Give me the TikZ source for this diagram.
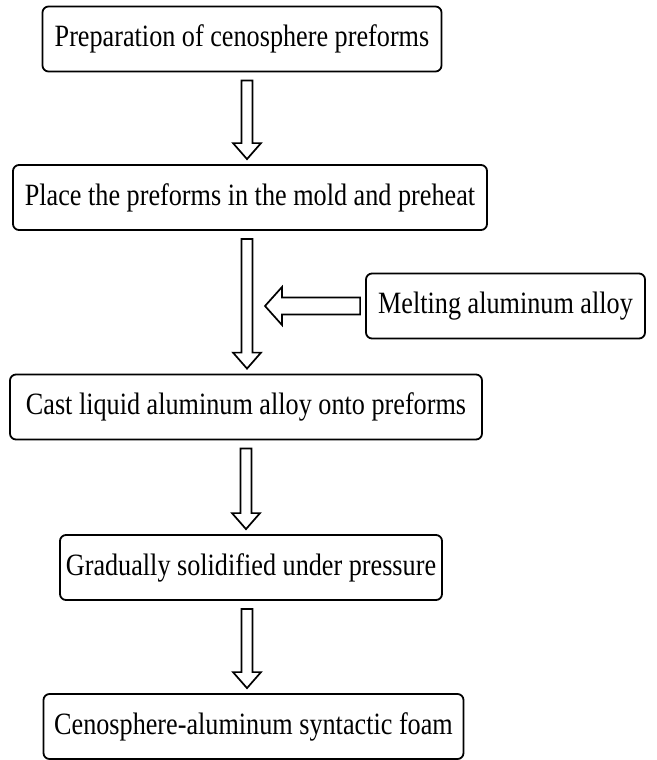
\documentclass[tikz,border=0pt]{standalone}
\usepackage{fontspec}
\setmainfont{Liberation Serif}[FakeStretch=0.845]
\usetikzlibrary{calc,positioning}
\tikzset{
    stepbox/.style={draw, rounded corners=6pt, line width=1.8pt, minimum height=65pt, inner xsep=3pt, font=\fontsize{31}{34}\selectfont},
    downarrow/.style={line width=1.7pt, to path={
        let \p1=(\tikztostart), \p2=(\tikztotarget) in
        (\x1-5.5pt,\y1-8pt) -- (\x1-5.5pt,\y2+21pt) -- (\x1-14pt,\y2+21pt) -- (\x1,\y2+5pt)
        -- (\x1+14pt,\y2+21pt) -- (\x1+5.5pt,\y2+21pt) -- (\x1+5.5pt,\y1-8pt) -- cycle}},
    leftarrow/.style={line width=1.7pt, to path={
        let \p1=(\tikztostart), \p2=(\tikztotarget) in
        (\x1-5pt,\y1+8.5pt) -- (\x2+17pt,\y1+8.5pt) -- (\x2+17pt,\y1+19pt) -- (\x2,\y1)
        -- (\x2+17pt,\y1-19pt) -- (\x2+17pt,\y1-8.5pt) -- (\x1-5pt,\y1-8.5pt) -- cycle}}
}
\begin{document}
\begin{tikzpicture}[x=1pt, y=1pt]
        \useasboundingbox (0,0) rectangle (656,-760);

        % Main steps
        \node[stepbox, minimum width=399pt] (prep) at (242,-39) {Preparation of cenosphere preforms};
        \node[stepbox, minimum width=474pt] (place) at (250,-197.5) {Place the preforms in the mold and preheat};
        \node[stepbox, minimum width=472pt] (cast) at (246,-407) {Cast liquid aluminum alloy onto preforms};
        \node[stepbox, minimum width=382pt] (solid) at (251,-567.5) {Gradually solidified under pressure};
        \node[stepbox, minimum width=420pt] (foam) at (253.5,-726.5) {Cenosphere-aluminum syntactic foam};

        % Side input
        \node[stepbox, minimum width=279pt] (melt) at (505.5,-306) {Melting aluminum alloy};
        \coordinate (merge) at (265,-306);

        % Connect steps
        \draw[downarrow] ([xshift=5pt]prep.south) to (place.north);
        \draw[downarrow] ([xshift=-3pt]place.south) to (cast.north);
        \draw[downarrow] (cast.south) to (solid.north);
        \draw[downarrow] ([xshift=-4pt]solid.south) to (foam.north);
        \draw[leftarrow] (melt.west) to (merge);
    \end{tikzpicture}
\end{document}
